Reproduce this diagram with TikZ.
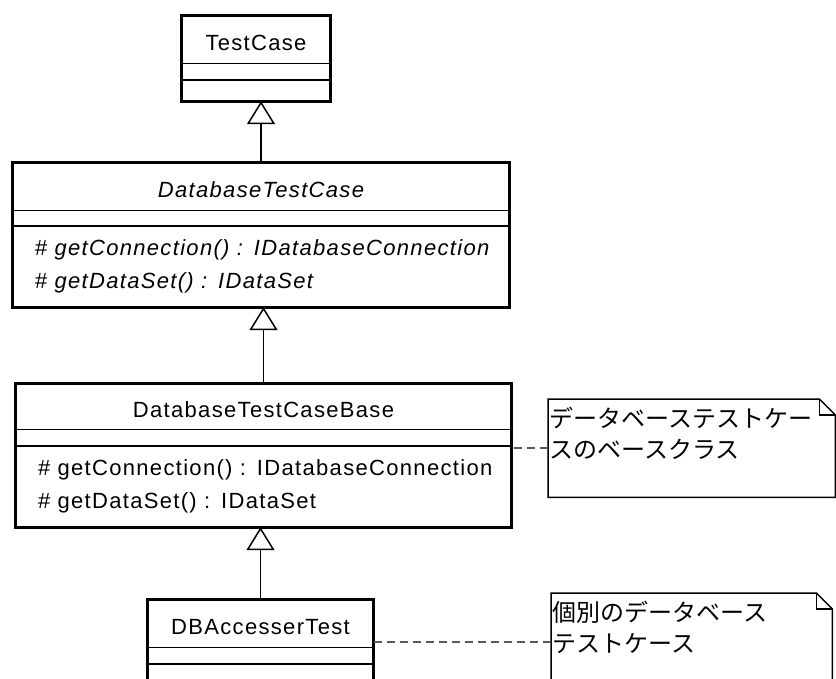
\documentclass[tikz,border=0pt]{standalone}
\usepackage{fontspec}
\setmainfont{Liberation Sans}[LetterSpace=6]
\newfontfamily\jpfont{Noto Sans CJK JP}
\usetikzlibrary{positioning, arrows.meta}

\begin{document}
\begin{tikzpicture}[%
		x=1pt, y=-1pt,
		font=\fontsize{22}{33}\selectfont,
		classhead/.style={
			rectangle,
			minimum width=#1,
			minimum height=47pt,
			inner sep=0pt,
			text height=22pt,
			text depth=0pt,
			anchor=north
		},
		classattr/.style={
			rectangle,
			minimum width=#1,
			minimum height=16pt,
			inner sep=0pt
		},
		classops/.style={
			rectangle,
			text width=#1,
			inner xsep=22pt,
			inner ysep=0pt,
			minimum height=81pt,
			align=left
		},
		classborder/.style={
			line width=3pt,
			black
		},
		compline/.style={
			line width=1.5pt,
			black
		},
		notebox/.style={
			rectangle,
			anchor=north west,
			inner xsep=1pt,
			inner ysep=0pt,
			text width=#1,
			text height=28pt,
			text depth=70pt,
			align=left,
			font=\jpfont\fontsize{24}{31}\selectfont
		},
		noteline/.style={
			line width=1.5pt,
			black
		},
		notelink/.style={
			draw=black!65,
			line width=2pt,
			dash pattern=on 8pt off 5pt
		},
		generalization/.style={
			line width=1.5pt,
			-{Triangle[open, length=23pt, width=28pt]}
		}]

		\useasboundingbox (0,0) rectangle (836,679);
		\clip (0,0) rectangle (836,679);

		% CLASSES

		\node (testcase) [classhead=148pt] at (256,16) {TestCase};
		\node (testcaseattr) [classattr=148pt, below=0pt of testcase] {};
		\node (testcaseops) [classattr=148pt, minimum height=21pt, below=0pt of testcaseattr] {};

		\node (dbtestcase) [classhead=496pt] at (261,163) {\itshape DatabaseTestCase};
		\node (dbtestcaseattr) [classattr=496pt, minimum height=15pt, below=0pt of dbtestcase] {};
		\node (dbtestcaseops) [classops=452pt, below=0pt of dbtestcaseattr]
			{\# \textit{getConnection() : IDatabaseConnection}\\\# \textit{getDataSet() : IDataSet}};

		\node (dbtestcasebase) [classhead=495pt, minimum height=46pt] at (263.5,383) {DatabaseTestCaseBase};
		\node (dbtestcasebaseattr) [classattr=495pt, below=0pt of dbtestcasebase] {};
		\node (dbtestcasebaseops) [classops=451pt, below=0pt of dbtestcasebaseattr]
			{\# getConnection() : IDatabaseConnection\\\# getDataSet() : IDataSet};

		\node (dbaccessertest) [classhead=225pt, minimum height=48pt] at (260.5,599) {DBAccesserTest};
		\node (dbaccessertestattr) [classattr=225pt, below=0pt of dbaccessertest] {};
		\node (dbaccessertestops) [classattr=225pt, minimum height=21pt, below=0pt of dbaccessertestattr] {};

		\foreach \cls in {testcase, dbtestcase, dbtestcasebase, dbaccessertest} {
			\draw[compline] (\cls.south west) -- (\cls.south east);
			\draw[compline] (\cls attr.south west) -- (\cls attr.south east);
			\draw[classborder] (\cls.north west) rectangle (\cls ops.south east);
		}

		% NOTES

		\node (basenote) [notebox=285pt] at (548,399) {データベーステストケー\\スのベースクラス};
		\node (testnote) [notebox=279pt] at (551,593) {個別のデータベース\\テストケース};

		\foreach \nt in {basenote, testnote} {
			\draw[noteline] (\nt.north west) -- ([xshift=-16pt]\nt.north east) -- ([yshift=-16pt]\nt.north east) -- (\nt.south east) -- (\nt.south west) -- cycle;
			\draw[noteline] ([xshift=-16pt]\nt.north east) |- ([yshift=-16pt]\nt.north east);
		}

		% GENERALIZATION LINES

		\draw[generalization] (dbtestcase.north) -- (dbtestcase.north |- testcaseops.south);
		\draw[generalization] (dbtestcasebase.north) -- (dbtestcasebase.north |- dbtestcaseops.south);
		\draw[generalization] (dbaccessertest.north) -- (dbaccessertest.north |- dbtestcasebaseops.south);

		% NOTE LINES

		\draw[notelink] (basenote.west) -- (basenote.west -| dbtestcasebaseops.east);
		\draw[notelink] (testnote.west) -- (testnote.west -| dbaccessertest.east);
\end{tikzpicture}
\end{document}
